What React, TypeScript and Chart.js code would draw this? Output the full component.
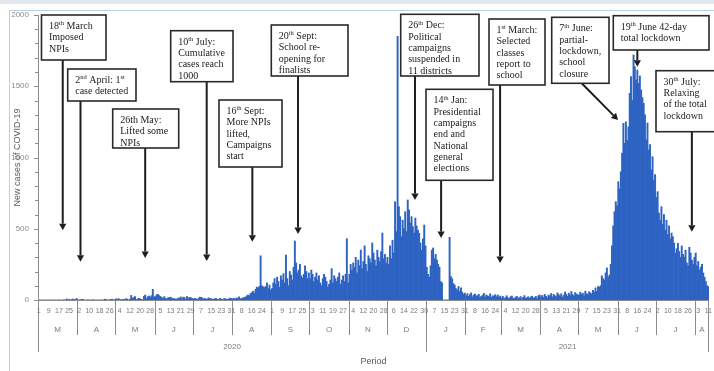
import React, { useEffect, useRef } from "react";
import { Chart, registerables } from "chart.js";

Chart.register(...registerables);

// ---- Daily new cases, one array per month (Mar 2020 .. Aug 2021) ----
const mar20 = [0,0,0,0,0,0,0,0,0,0, 0,0,0,0,0,0,0,0,0,0, 1,0,8,0,5,0,4,7,3,3, 11];
const apr20 = [1,0,3,3,4,0,0,0,1,0, 0,0,2,0,0,0,0,0,1,0, 0,6,4,0,0,3,4,6,0,2];
const may20 = [8,2,10,1,3,2,5,2,10,5, 0,6,32,12,18,24,2,7,12,8, 4,1,25,35,10,23,28,17,30,75, 21];
const jun20 = [24,37,40,31,25,18,10,24,12,6, 15,17,20,13,8,11,5,7,14,12, 22,9,20,18,5,25,10,19,16,11];
const jul20 = [7,12,9,4,10,20,18,15,6,12, 5,8,15,9,10,4,6,9,11,5, 3,12,7,2,8,10,5,6,8,13, 10];
const aug20 = [8,12,6,15,10,22,9,11,14,18, 20,28,35,30,45,52,60,48,75,90, 85,95,310,100,92,88,95,120,80,105, 70];
const sep20 = [80,120,150,110,160,130,90,170,140,185, 120,315,150,100,200,175,140,230,414,260, 190,210,250,170,155,180,240,200,150,190];
const oct20 = [150,210,180,130,160,190,140,170,120,100, 150,180,160,130,90,110,140,220,120,170, 150,130,160,190,110,140,170,130,180,430, 120];
const nov20 = [180,250,210,260,230,300,190,280,240,350, 220,270,380,250,200,310,290,260,400,330, 280,240,350,300,270,340,470,290,320,260];
const dec20 = [300,250,380,290,420,330,690,480,1850,655, 585,444,560,500,620,480,702,632,540,585, 515,470,575,520,490,468,400,350,430,526, 380];
const jan21 = [230,180,160,240,350,365,290,320,280,250, 230,130,120,0,0,0,0,0,440,165, 150,115,105,80,70,95,60,85,55,40, 48];
const feb21 = [30,45,25,38,50,22,35,42,28,31, 40,18,26,33,47,21,36,29,24,44, 19,30,27,38,23,35,20,28];
const mar21 = [12,25,8,18,30,15,10,22,28,14, 9,20,26,11,17,24,7,19,31,13, 16,23,10,21,27,12,18,25,9,30, 35];
const apr21 = [20,32,18,40,26,15,35,28,45,22, 40,30,24,50,38,28,44,20,34,55, 40,26,48,32,60,38,28,52,42,36];
const may21 = [35,55,40,48,30,62,45,38,58,50, 42,68,55,85,60,95,90,100,170,150, 140,190,225,160,175,250,380,520,620,690, 660];
const jun21 = [830,780,900,1030,1240,1100,1250,1120,1215,1450, 1567,1400,1720,1637,1544,1614,1520,1572,1474,1420, 1380,1300,1123,1242,1053,1090,912,1006,842,880];
const jul21 = [720,760,610,560,655,530,600,490,560,460, 520,430,470,444,400,330,360,398,340,300, 380,320,300,350,260,240,370,330,280,250, 300];
const aug21 = [330,240,270,210,230,250,190,160,130,100,95];

const monthSeries = [mar20, apr20, may20, jun20, jul20, aug20, sep20, oct20, nov20, dec20,
  jan21, feb21, mar21, apr21, may21, jun21, jul21, aug21];
const monthLetters = ["M","A","M","J","J","A","S","O","N","D","J","F","M","A","M","J","J","A"];
const monthYear = ["2020","2020","2020","2020","2020","2020","2020","2020","2020","2020",
  "2021","2021","2021","2021","2021","2021","2021","2021"];
const yearLabels = ["2020", "2021"];
const yTicks = [0, 500, 1000, 1500, 2000];
const yTitle = "New cases of COVID-19";
const xTitle = "Period";

const values = monthSeries.flat();
const dayLabels = monthSeries.flatMap((m) => m.map((_, i) => String(i + 1)));
const monthStart: number[] = [];
{
  let acc = 0;
  monthSeries.forEach((m) => { monthStart.push(acc); acc += m.length; });
}

type Note = { lines: string[]; box: [number, number, number, number]; month: number; day: number; tip: number; from?: number };

const notes: Note[] = [
  { lines: ["18^th March", "Imposed", "NPIs"], box: [41.5, 15, 64.5, 45], month: 0, day: 20, tip: 490 },
  { lines: ["2^nd April: 1^st", "case detected"], box: [67.7, 69, 68.3, 32], month: 1, day: 3, tip: 268 },
  { lines: ["26th May:", "Lifted some", "NPIs"], box: [112.7, 109, 66, 39], month: 2, day: 24, tip: 295 },
  { lines: ["10^th July:", "Cumulative", "cases reach", "1000"], box: [170.7, 30.7, 62.3, 51], month: 4, day: 11.5, tip: 274 },
  { lines: ["16^th Sept:", "More NPIs", "lifted,", "Campaigns", "start"], box: [219, 100, 63, 67], month: 5, day: 16.5, tip: 409 },
  { lines: ["20^th Sept:", "School re-", "opening for", "finalists"], box: [271.3, 25, 76.7, 51], month: 6, day: 21.5, tip: 463 },
  { lines: ["26^th Dec:", "Political", "campaigns", "suspended in", "11 districts"], box: [400.7, 14.3, 78.3, 61.7], month: 9, day: 22.7, tip: 702 },
  { lines: ["14^th Jan:", "Presidential", "campaigns", "end and", "National", "general", "elections"], box: [426, 89.3, 67, 91], month: 10, day: 12.3, tip: 435 },
  { lines: ["1^st March:", "Selected", "classes", "report to", "school"], box: [489, 19, 56, 66], month: 11, day: 27.8, tip: 260 },
  { lines: ["7^th June:", "partial-", "lockdown,", "school", "closure"], box: [551.7, 17.3, 57.3, 66], month: 14, day: 31.8, tip: 1263, from: 581.7 },
  { lines: ["19^th June 42-day", "total lockdown"], box: [613.3, 15.7, 95.7, 34.3], month: 15, day: 16, tip: 1637 },
  { lines: ["30^th July:", "Relaxing", "of the total", "lockdown"], box: [656, 70.7, 62, 61], month: 16, day: 29, tip: 479 },
];

const GRAY = "#8c8c8c";
const SANS = '"Liberation Sans", Arial, sans-serif';
const SERIF = '"Liberation Serif", "Times New Roman", serif';

function drawArrow(ctx: CanvasRenderingContext2D, x1: number, y1: number, x2: number, y2: number) {
  const ang = Math.atan2(y2 - y1, x2 - x1);
  const hl = 6.5, hw = 3.6;
  const bx = x2 - hl * Math.cos(ang), by = y2 - hl * Math.sin(ang);
  ctx.beginPath();
  ctx.moveTo(x1, y1);
  ctx.lineTo(bx, by);
  ctx.stroke();
  ctx.beginPath();
  ctx.moveTo(x2, y2);
  ctx.lineTo(bx + hw * Math.sin(ang), by - hw * Math.cos(ang));
  ctx.lineTo(bx - hw * Math.sin(ang), by + hw * Math.cos(ang));
  ctx.closePath();
  ctx.fill();
}

function drawRich(ctx: CanvasRenderingContext2D, text: string, x: number, y: number) {
  const parts = text.split(/\^([a-z]+)/);
  let cx = x;
  parts.forEach((p, i) => {
    if (!p) return;
    if (i % 2 === 1) {
      ctx.font = `6.5px ${SERIF}`;
      ctx.fillText(p, cx, y - 3.8);
    } else {
      ctx.font = `10px ${SERIF}`;
      ctx.fillText(p, cx, y);
    }
    cx += ctx.measureText(p).width;
  });
}

const overlayPlugin = {
  id: "overlay",
  afterDraw(chart: any) {
    const { ctx, chartArea, scales } = chart;
    const x = scales.x, y = scales.y;
    const L = chartArea.left, R = chartArea.right, B = chartArea.bottom;
    const n = values.length;
    const w = (R - L) / n;
    ctx.save();
    // axes
    ctx.strokeStyle = GRAY;
    ctx.lineWidth = 1;
    ctx.beginPath();
    ctx.moveTo(L + 0.5, chartArea.top);
    ctx.lineTo(L + 0.5, 352);
    ctx.moveTo(L, B + 0.5);
    ctx.lineTo(R, B + 0.5);
    ctx.moveTo(R - 0.5, B);
    ctx.lineTo(R - 0.5, 352);
    for (let v = 0; v <= 2000; v += 100) {
      const py = Math.round(y.getPixelForValue(v)) + 0.5;
      ctx.moveTo(L - (v % 500 === 0 ? 4 : 3), py);
      ctx.lineTo(L, py);
    }
    monthStart.forEach((s, k) => {
      if (k === 0) return;
      const px = Math.round(L + s * w) + 0.5;
      const yearBreak = monthYear[k] !== monthYear[k - 1];
      ctx.moveTo(px, B);
      ctx.lineTo(px, yearBreak ? 352 : 335);
    });
    ctx.stroke();

    // day labels
    ctx.fillStyle = "#7a7a7a";
    ctx.textAlign = "center";
    ctx.textBaseline = "middle";
    ctx.font = `7px ${SANS}`;
    dayLabels.forEach((lab, i) => {
      if (i % 8 === 0) ctx.fillText(lab, x.getPixelForValue(i), 311.5);
    });
    // month letters
    ctx.font = `8px ${SANS}`;
    monthStart.forEach((s, k) => {
      const e = s + monthSeries[k].length;
      ctx.fillText(monthLetters[k], L + ((s + e) / 2) * w, 330);
    });
    // years
    yearLabels.forEach((yr) => {
      const idx = monthYear.map((m, k) => (m === yr ? k : -1)).filter((k) => k >= 0);
      const s = monthStart[idx[0]];
      const last = idx[idx.length - 1];
      const e = monthStart[last] + monthSeries[last].length;
      ctx.fillText(yr, L + ((s + e) / 2) * w, 347);
    });
    // titles
    ctx.fillStyle = "#595959";
    ctx.font = `9px ${SANS}`;
    ctx.fillText(xTitle, (L + R) / 2, 361.5);
    ctx.save();
    ctx.translate(17.5, (chartArea.top + B) / 2);
    ctx.rotate(-Math.PI / 2);
    ctx.fillText(yTitle, 0, 0);
    ctx.restore();

    // annotations
    ctx.textAlign = "left";
    ctx.textBaseline = "alphabetic";
    notes.forEach((nt) => {
      const [bx, by, bw, bh] = nt.box;
      const idx = monthStart[nt.month] + nt.day - 1;
      const ax = x.getPixelForValue(idx);
      const ay = y.getPixelForValue(nt.tip);
      ctx.strokeStyle = "#1e1e1e";
      ctx.fillStyle = "#1e1e1e";
      ctx.lineWidth = 2;
      drawArrow(ctx, nt.from ?? ax, by + bh, ax, ay);
      ctx.fillStyle = "#ffffff";
      ctx.fillRect(bx, by, bw, bh);
      ctx.strokeStyle = "#2a2a2a";
      ctx.lineWidth = 1.6;
      ctx.strokeRect(bx, by, bw, bh);
      ctx.fillStyle = "#222222";
      nt.lines.forEach((ln, li) => drawRich(ctx, ln, bx + 7.5, by + 14 + li * 11.3));
    });
    ctx.restore();
  },
};

export default function App() {
  const ref = useRef<HTMLCanvasElement | null>(null);
  useEffect(() => {
    if (!ref.current) return;
    const chart = new Chart(ref.current, {
      type: "bar",
      data: {
        labels: dayLabels,
        datasets: [{
          data: values,
          backgroundColor: "#2d63c2",
          borderWidth: 0,
          barPercentage: 1,
          categoryPercentage: 1,
        }],
      },
      options: {
        animation: false,
        responsive: false,
        devicePixelRatio: 1,
        layout: { padding: { top: 15, bottom: 71, left: 0, right: 5 } },
        plugins: { legend: { display: false }, tooltip: { enabled: false } },
        scales: {
          x: { display: false, offset: true },
          y: {
            min: 0,
            max: 2000,
            afterBuildTicks: (s: any) => { s.ticks = yTicks.map((v) => ({ value: v })); },
            afterFit: (s: any) => { s.width = 38; },
            grid: { display: false, drawTicks: false },
            border: { display: false },
            ticks: {
              padding: 9,
              color: GRAY,
              font: { family: "Liberation Sans", size: 8 },
              callback: (v: any) => String(v),
            },
          },
        },
      },
      plugins: [overlayPlugin],
    } as any);
    return () => chart.destroy();
  }, []);

  return (
    <div style={{ position: "absolute", left: 0, top: 0, width: 714, height: 371, background: "#fff", overflow: "hidden" }}>
      <div style={{ position: "absolute", left: 0, top: 0, width: 714, height: 4, background: "#e1e7ee" }} />
      <div style={{ position: "absolute", left: 9, top: 10, width: 705, height: 1, background: "#b9cfeb" }} />
      <div style={{ position: "absolute", left: 9, top: 10, width: 1, height: 361, background: "#b9cfeb" }} />
      <canvas ref={ref} width={714} height={371} style={{ position: "absolute", left: 0, top: 0 }} />
    </div>
  );
}
